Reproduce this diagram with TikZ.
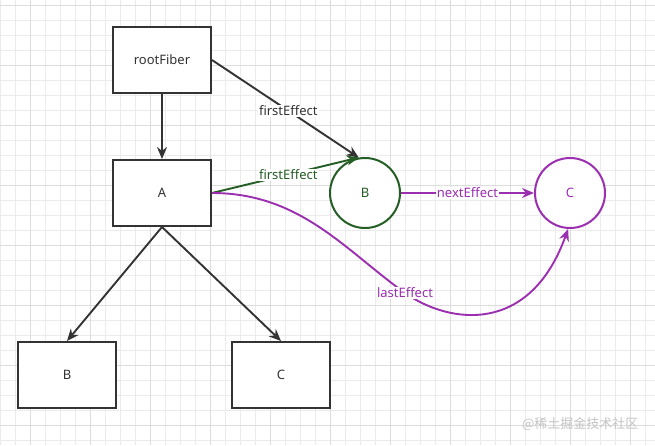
\documentclass[tikz,border=0pt]{standalone}
\usepackage{fontspec}
\setmainfont{Noto Sans}
\newfontfamily\cjk{Noto Sans CJK SC}
\usetikzlibrary{arrows.meta}
\definecolor{gridc}{HTML}{EBEBEB}
\definecolor{gridd}{HTML}{DDDDDD}
\definecolor{ink}{HTML}{333333}
\definecolor{grn}{HTML}{245E24}
\definecolor{pur}{HTML}{9B2FB0}
\definecolor{wm}{HTML}{C4C4C4}
\tikzset{
  box/.style={draw=ink, line width=2pt, fill=white, minimum width=98pt, minimum height=66pt, inner sep=0pt, font=\fontsize{13}{15}\selectfont, text=ink},
  circ/.style={circle, line width=2pt, fill=white, minimum size=70pt, inner sep=0pt, font=\fontsize{13}{15}\selectfont},
  conn/.style={line width=1.9pt, -{Stealth[length=12pt,width=10pt]}},
  lbl/.style={fill=white, inner sep=1pt, font=\fontsize{13}{15}\selectfont}
}
\begin{document}
\begin{tikzpicture}[x=1pt,y=-1pt]
\useasboundingbox (0,0) rectangle (655,445);
\fill[white] (0,0) rectangle (655,445);
% grid
\foreach \x in {0,15,...,655} {\draw[gridc, line width=0.8pt] (\x,0) -- (\x,445);}
\foreach \y in {5,20,...,445} {\draw[gridc, line width=0.8pt] (0,\y) -- (655,\y);}
\foreach \x in {30,90,...,655} {\draw[gridd, line width=0.8pt] (\x,0) -- (\x,445);}
\foreach \y in {5,65,...,445} {\draw[gridd, line width=0.8pt] (0,\y) -- (655,\y);}
% nodes
\node[box] (root) at (162,60) {rootFiber};
\node[box] (A) at (162,193) {A};
\node[box] (Bb) at (67,375) {B};
\node[box] (Cb) at (281,375) {C};
\node[circ, draw=grn, text=grn] (Bc) at (365,193) {B};
\node[circ, draw=pur, text=pur] (Cc) at (570,193) {C};
\node[text=wm, font=\cjk\fontsize{13}{15}\selectfont, anchor=east] (wmk) at (642,424) {@稀土掘金技术社区};
% connectors
\draw[conn, draw=ink] (root.south) -- (A.north);
\draw[conn, draw=ink] (root.east) -- node[lbl, text=ink, pos=0.52] {firstEffect} (Bc.100);
\draw[conn, draw=grn] (A.east) -- node[lbl, text=grn, pos=0.52] {firstEffect} (Bc.100);
\draw[conn, draw=ink] (A.south) -- (Bb.north);
\draw[conn, draw=ink] (A.south) -- (Cb.north);
\draw[conn, draw=pur] (Bc.east) -- node[lbl, text=pur] {nextEffect} (Cc.west);
\draw[conn, draw=pur] (A.east) .. controls (300,193) and (345,250) .. (405,293)
  node[lbl, text=pur] {lastEffect}
  .. controls (450,324.5) and (530,335) .. (Cc.-93);
\end{tikzpicture}
\end{document}
